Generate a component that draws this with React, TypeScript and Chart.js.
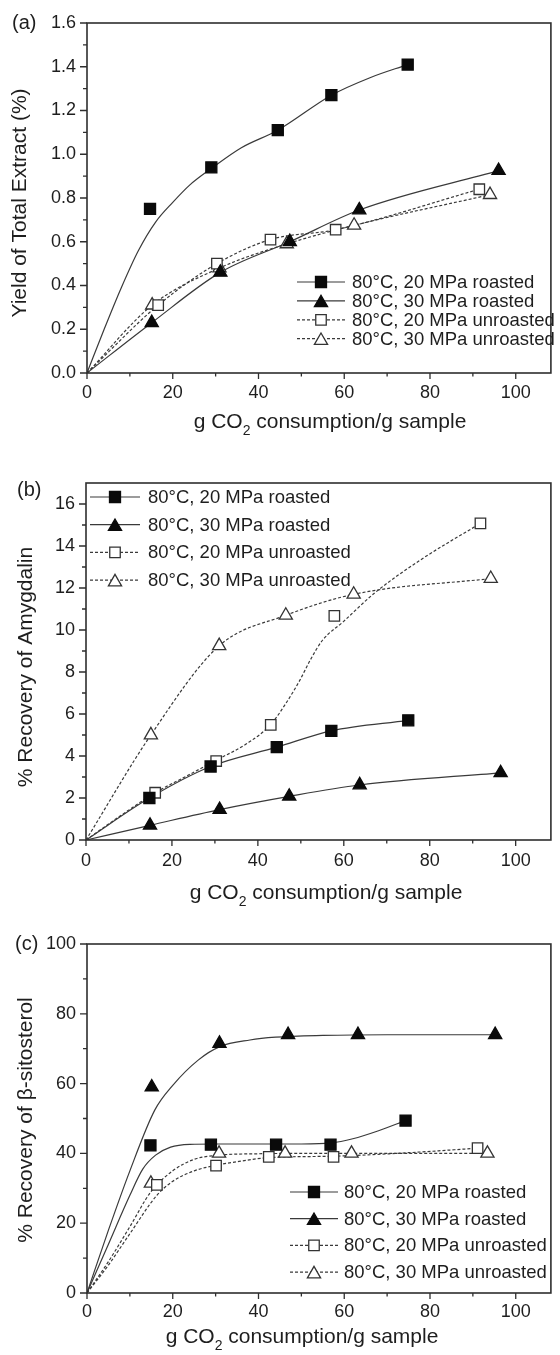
import React, { useEffect, useRef } from 'react';
import { Chart, registerables } from 'chart.js';

Chart.register(...registerables);

const FONT = '"Liberation Sans", Arial, Helvetica, sans-serif';

const legendLabels = ['80°C, 20 MPa roasted', '80°C, 30 MPa roasted', '80°C, 20 MPa unroasted', '80°C, 30 MPa unroasted'];
const xTickValues = [0, 20, 40, 60, 80, 100];
const xMinorValues = [10, 30, 50, 70, 90];

// ---------- Panel (a): Yield of Total Extract ----------
const aYTicks = [0, 0.2, 0.4, 0.6, 0.8, 1.0, 1.2, 1.4, 1.6];
const aX1 = [14.7, 29.0, 44.5, 57.0, 74.8];
const aY1 = [0.75, 0.94, 1.11, 1.27, 1.41];
const aX2 = [15.1, 31.1, 47.3, 63.5, 96.0];
const aY2 = [0.23, 0.46, 0.6, 0.745, 0.925];
const aX3 = [16.6, 30.3, 42.8, 58.0, 91.5];
const aY3 = [0.31, 0.5, 0.61, 0.655, 0.84];
const aX4 = [15.2, 30.9, 46.6, 62.3, 94.0];
const aY4 = [0.31, 0.48, 0.59, 0.675, 0.815];
// fitted curves
const aCx1 = [0, 4, 8, 12, 16, 20, 24, 29, 36, 44.5, 57, 66, 74.8];
const aCy1 = [0, 0.2, 0.39, 0.56, 0.69, 0.78, 0.86, 0.935, 1.03, 1.11, 1.27, 1.35, 1.41];
const aCx2 = [0, 15.1, 31.1, 47.3, 63.5, 96.0];
const aCy2 = [0, 0.23, 0.46, 0.6, 0.745, 0.925];
const aCx3 = [0, 16.6, 30.3, 42.8, 58.0, 91.5];
const aCy3 = [0, 0.31, 0.5, 0.61, 0.655, 0.84];
const aCx4 = [0, 15.2, 30.9, 46.6, 62.3, 94.0];
const aCy4 = [0, 0.31, 0.48, 0.59, 0.675, 0.815];

// ---------- Panel (b): Recovery of Amygdalin ----------
const bYTicks = [0, 2, 4, 6, 8, 10, 12, 14, 16];
const bX1 = [14.75, 29.0, 44.4, 57.1, 75.0];
const bY1 = [2.0, 3.5, 4.42, 5.2, 5.7];
const bX2 = [14.9, 31.1, 47.3, 63.7, 96.5];
const bY2 = [0.7, 1.45, 2.08, 2.62, 3.2];
const bX3 = [16.1, 30.3, 43.0, 57.8, 91.8];
const bY3 = [2.25, 3.76, 5.48, 10.67, 15.08];
const bX4 = [15.1, 31.0, 46.5, 62.3, 94.2];
const bY4 = [5.0, 9.25, 10.7, 11.7, 12.45];
const bCx1 = [0, 14.75, 29.0, 44.4, 57.1, 75.0];
const bCy1 = [0, 2.0, 3.5, 4.42, 5.2, 5.7];
const bCx2 = [0, 14.9, 31.1, 47.3, 63.7, 96.5];
const bCy2 = [0, 0.7, 1.45, 2.08, 2.62, 3.2];
const bCx3 = [0, 8, 16.1, 23, 30.3, 37.5, 43, 46.5, 49.75, 52.2, 55, 59.9, 67.1, 77.8, 91.8];
const bCy3 = [0, 1.15, 2.25, 3.0, 3.8, 4.6, 5.5, 6.5, 7.6, 8.57, 9.5, 10.4, 11.75, 13.33, 15.08];
const bCx4 = [0, 15.1, 31.0, 46.5, 62.3, 94.2];
const bCy4 = [0, 5.0, 9.25, 10.7, 11.7, 12.45];

// ---------- Panel (c): Recovery of beta-sitosterol ----------
const cYTicks = [0, 20, 40, 60, 80, 100];
const cX1 = [14.8, 28.9, 44.1, 56.8, 74.3];
const cY1 = [42.3, 42.5, 42.5, 42.5, 49.4];
const cX2 = [15.1, 30.9, 46.9, 63.2, 95.2];
const cY2 = [59.0, 71.5, 74.0, 74.0, 74.0];
const cX3 = [16.3, 30.1, 42.4, 57.5, 91.1];
const cY3 = [31.0, 36.5, 39.0, 39.0, 41.5];
const cX4 = [14.9, 30.8, 46.2, 61.7, 93.4];
const cY4 = [31.4, 40.0, 40.0, 40.0, 40.0];
const cCx1 = [0, 5, 10, 13, 16, 19.5, 24, 30, 40, 50, 57, 62, 68, 74.3];
const cCy1 = [0, 14, 28, 35.5, 39.5, 41.8, 42.6, 42.7, 42.7, 42.7, 43.0, 44.2, 46.5, 49.4];
const cCx2 = [0, 5, 10, 15.8, 20, 26, 31, 38, 44, 55, 70, 95.2];
const cCy2 = [0, 18, 35, 52.4, 59.5, 66.8, 70.6, 72.5, 73.3, 73.8, 74, 74];
const cCx3 = [0, 5, 10, 16.3, 20, 25, 30.1, 36, 42.4, 57.5, 75, 91.1];
const cCy3 = [0, 8, 17, 28, 32, 35, 36.6, 37.8, 38.8, 39.2, 40.2, 41.5];
const cCx4 = [0, 5, 10, 14.9, 20, 25, 30.8, 40, 50, 93.4];
const cCy4 = [0, 9, 19, 29, 35, 38.3, 39.5, 39.9, 40, 40];

type Series = { mx: number[]; my: number[]; cx: number[]; cy: number[] };
type PanelCfg = {
  top: number;
  height: number;
  area: { l: number; r: number; t: number; b: number };
  xMax: number;
  yMax: number;
  yTicks: number[];
  decimals: number;
  xLabelPad: number;
  letter: string;
  letterX: number;
  letterY: number;
  yTitle: string;
  yTitleX: number;
  yTitleY: number;
  xTitleX: number;
  xTitleY: number;
  legend: { x0: number; x1: number; tx: number; y0: number; dy: number };
  series: Series[];
};

const STYLES = [
  { shape: 'rect', filled: true, dashed: false },
  { shape: 'triangle', filled: true, dashed: false },
  { shape: 'rect', filled: false, dashed: true },
  { shape: 'triangle', filled: false, dashed: true },
];

const LINE_COLOR = '#3a3a3a';
const FRAME_COLOR = '#2e2e2e';
const TEXT_COLOR = '#1e1e1e';

const panels: PanelCfg[] = [
  {
    top: 0, height: 440,
    area: { l: 87, r: 559, t: 23, b: 373 },
    xMax: 108.2, yMax: 1.6, yTicks: aYTicks, decimals: 1, xLabelPad: 9,
    letter: '(a)', letterX: 12, letterY: 23,
    yTitle: 'Yield of Total Extract (%)', yTitleX: 20, yTitleY: 203,
    xTitleX: 330, xTitleY: 422,
    legend: { x0: 297, x1: 345, tx: 352, y0: 282, dy: 18.9 },
    series: [
      { mx: aX1, my: aY1, cx: aCx1, cy: aCy1 },
      { mx: aX2, my: aY2, cx: aCx2, cy: aCy2 },
      { mx: aX3, my: aY3, cx: aCx3, cy: aCy3 },
      { mx: aX4, my: aY4, cx: aCx4, cy: aCy4 },
    ],
  },
  {
    top: 440, height: 475,
    area: { l: 86, r: 559, t: 43, b: 400 },
    xMax: 108.2, yMax: 17, yTicks: bYTicks, decimals: 0, xLabelPad: 10,
    letter: '(b)', letterX: 17, letterY: 50,
    yTitle: '% Recovery of Amygdalin', yTitleX: 26, yTitleY: 227,
    xTitleX: 326, xTitleY: 453,
    legend: { x0: 90, x1: 140, tx: 148, y0: 57, dy: 27.7 },
    series: [
      { mx: bX1, my: bY1, cx: bCx1, cy: bCy1 },
      { mx: bX2, my: bY2, cx: bCx2, cy: bCy2 },
      { mx: bX3, my: bY3, cx: bCx3, cy: bCy3 },
      { mx: bX4, my: bY4, cx: bCx4, cy: bCy4 },
    ],
  },
  {
    top: 900, height: 455,
    area: { l: 87, r: 559, t: 44, b: 393 },
    xMax: 108.2, yMax: 100, yTicks: cYTicks, decimals: 0, xLabelPad: 8,
    letter: '(c)', letterX: 15, letterY: 44,
    yTitle: '% Recovery of β-sitosterol', yTitleX: 26, yTitleY: 220,
    xTitleX: 302, xTitleY: 437,
    legend: { x0: 290, x1: 338, tx: 344, y0: 292, dy: 26.7 },
    series: [
      { mx: cX1, my: cY1, cx: cCx1, cy: cCy1 },
      { mx: cX2, my: cY2, cx: cCx2, cy: cCy2 },
      { mx: cX3, my: cY3, cx: cCx3, cy: cCy3 },
      { mx: cX4, my: cY4, cx: cCx4, cy: cCy4 },
    ],
  },
];

function drawMarker(ctx: CanvasRenderingContext2D, shape: string, filled: boolean, x: number, y: number) {
  ctx.save();
  ctx.beginPath();
  if (shape === 'rect') {
    const s = filled ? 11 : 10.5;
    ctx.rect(x - s / 2, y - s / 2, s, s);
  } else {
    const r = 7.6;
    for (let k = 0; k < 3; k++) {
      const a = (k * 2 * Math.PI) / 3;
      const px = x + Math.sin(a) * r;
      const py = y + r * 0.25 - Math.cos(a) * r;
      if (k === 0) ctx.moveTo(px, py); else ctx.lineTo(px, py);
    }
    ctx.closePath();
  }
  ctx.fillStyle = filled ? '#0a0a0a' : '#ffffff';
  ctx.fill();
  ctx.lineWidth = 1.3;
  ctx.strokeStyle = filled ? '#0a0a0a' : '#333333';
  ctx.stroke();
  ctx.restore();
}

function makeDecor(cfg: PanelCfg) {
  return {
    id: 'decor' + cfg.letter,
    afterDraw(chart: any) {
      const ctx: CanvasRenderingContext2D = chart.ctx;
      const { left, right, top, bottom } = chart.chartArea;
      const xs = chart.scales.x;
      const ys = chart.scales.y;
      ctx.save();
      // frame
      ctx.strokeStyle = FRAME_COLOR;
      ctx.lineWidth = 1.6;
      ctx.strokeRect(left, top, right - left, bottom - top);
      // y ticks
      ctx.lineWidth = 1.3;
      ctx.beginPath();
      const yt = cfg.yTicks;
      for (let i = 0; i < yt.length; i++) {
        const p = ys.getPixelForValue(yt[i]);
        ctx.moveTo(left - 7, p); ctx.lineTo(left, p);
        const mid = i < yt.length - 1 ? (yt[i] + yt[i + 1]) / 2 : null;
        if (mid !== null) {
          const q = ys.getPixelForValue(mid);
          ctx.moveTo(left - 4, q); ctx.lineTo(left, q);
        }
      }
      for (const v of xTickValues) {
        const p = xs.getPixelForValue(v);
        ctx.moveTo(p, bottom); ctx.lineTo(p, bottom + 6);
      }
      for (const v of xMinorValues) {
        const p = xs.getPixelForValue(v);
        ctx.moveTo(p, bottom); ctx.lineTo(p, bottom + 3.5);
      }
      ctx.stroke();

      // legend
      const lg = cfg.legend;
      for (let i = 0; i < 4; i++) {
        const st = STYLES[i];
        const y = lg.y0 + i * lg.dy;
        ctx.save();
        ctx.strokeStyle = LINE_COLOR;
        ctx.lineWidth = 1.2;
        ctx.setLineDash(st.dashed ? [3, 2] : []);
        ctx.beginPath();
        ctx.moveTo(lg.x0, y); ctx.lineTo(lg.x1, y);
        ctx.stroke();
        ctx.restore();
        drawMarker(ctx, st.shape, st.filled, (lg.x0 + lg.x1) / 2, y);
        ctx.fillStyle = TEXT_COLOR;
        ctx.font = `18.5px ${FONT}`;
        ctx.textAlign = 'left';
        ctx.textBaseline = 'middle';
        ctx.fillText(legendLabels[i], lg.tx, y + 1);
      }

      // panel letter
      ctx.fillStyle = TEXT_COLOR;
      ctx.font = `20px ${FONT}`;
      ctx.textAlign = 'left';
      ctx.textBaseline = 'middle';
      ctx.fillText(cfg.letter, cfg.letterX, cfg.letterY);

      // y title
      ctx.save();
      ctx.translate(cfg.yTitleX, cfg.yTitleY);
      ctx.rotate(-Math.PI / 2);
      ctx.font = `21px ${FONT}`;
      ctx.textAlign = 'center';
      ctx.textBaseline = 'middle';
      ctx.fillText(cfg.yTitle, 0, 0);
      ctx.restore();

      // x title with subscript
      const main = `21px ${FONT}`;
      const sub = `14px ${FONT}`;
      const p1 = 'g CO';
      const p2 = '2';
      const p3 = ' consumption/g sample';
      ctx.font = main;
      const w1 = ctx.measureText(p1).width;
      const w3 = ctx.measureText(p3).width;
      ctx.font = sub;
      const w2 = ctx.measureText(p2).width;
      let x = cfg.xTitleX - (w1 + w2 + w3) / 2;
      ctx.textAlign = 'left';
      ctx.textBaseline = 'middle';
      ctx.font = main; ctx.fillText(p1, x, cfg.xTitleY); x += w1;
      ctx.font = sub; ctx.fillText(p2, x, cfg.xTitleY + 9); x += w2;
      ctx.font = main; ctx.fillText(p3, x, cfg.xTitleY);
      ctx.restore();
    },
  };
}

function Panel({ cfg }: { cfg: PanelCfg }) {
  const ref = useRef<HTMLCanvasElement | null>(null);
  useEffect(() => {
    if (!ref.current) return;
    const datasets: any[] = [];
    cfg.series.forEach((s, i) => {
      const st = STYLES[i];
      datasets.push({
        label: legendLabels[i] + ' markers',
        data: s.mx.map((x, k) => ({ x, y: s.my[k] })),
        showLine: false,
        pointStyle: st.shape,
        pointRadius: st.shape === 'rect' ? (st.filled ? 7.8 : 7.4) : 7.6,
        pointHoverRadius: 7.6,
        backgroundColor: st.filled ? '#0a0a0a' : '#ffffff',
        borderColor: st.filled ? '#0a0a0a' : '#333333',
        pointBorderWidth: 1.3,
        order: 0,
      });
    });
    cfg.series.forEach((s, i) => {
      const st = STYLES[i];
      datasets.push({
        label: legendLabels[i] + ' fit',
        data: s.cx.map((x, k) => ({ x, y: s.cy[k] })),
        showLine: true,
        pointRadius: 0,
        borderColor: LINE_COLOR,
        borderWidth: 1.2,
        borderDash: st.dashed ? [3, 2] : [],
        cubicInterpolationMode: 'monotone',
        fill: false,
        order: 1,
      });
    });
    const a = cfg.area;
    const chart = new Chart(ref.current, {
      type: 'scatter',
      data: { datasets },
      options: {
        responsive: false,
        animation: false,
        devicePixelRatio: 1,
        layout: { padding: { top: a.t, right: 560 - a.r, left: 0, bottom: 0 } },
        plugins: { legend: { display: false }, tooltip: { enabled: false } },
        scales: {
          x: {
            type: 'linear',
            min: 0,
            max: cfg.xMax,
            grid: { display: false, drawTicks: false },
            border: { display: false },
            afterBuildTicks: (sc: any) => { sc.ticks = xTickValues.map((v) => ({ value: v })); },
            afterFit: (sc: any) => { sc.height = cfg.height - a.b; },
            ticks: {
              autoSkip: false,
              maxRotation: 0,
              padding: cfg.xLabelPad,
              color: TEXT_COLOR,
              font: { family: FONT, size: 18 },
              callback: (v: any) => String(v),
            },
          },
          y: {
            type: 'linear',
            min: 0,
            max: cfg.yMax,
            grid: { display: false, drawTicks: false },
            border: { display: false },
            afterBuildTicks: (sc: any) => { sc.ticks = cfg.yTicks.map((v) => ({ value: v })); },
            afterFit: (sc: any) => { sc.width = a.l; },
            ticks: {
              autoSkip: false,
              padding: 11,
              color: TEXT_COLOR,
              font: { family: FONT, size: 18 },
              callback: (v: any) => Number(v).toFixed(cfg.decimals),
            },
          },
        },
      } as any,
      plugins: [makeDecor(cfg)],
    });
    return () => chart.destroy();
  }, [cfg]);
  return (
    <canvas
      ref={ref}
      width={560}
      height={cfg.height}
      style={{ position: 'absolute', left: 0, top: cfg.top, width: 560, height: cfg.height }}
    />
  );
}

export default function App() {
  return (
    <div style={{ position: 'absolute', left: 0, top: 0, width: 560, height: 1355, background: '#ffffff' }}>
      {panels.map((p) => (
        <Panel key={p.letter} cfg={p} />
      ))}
    </div>
  );
}
